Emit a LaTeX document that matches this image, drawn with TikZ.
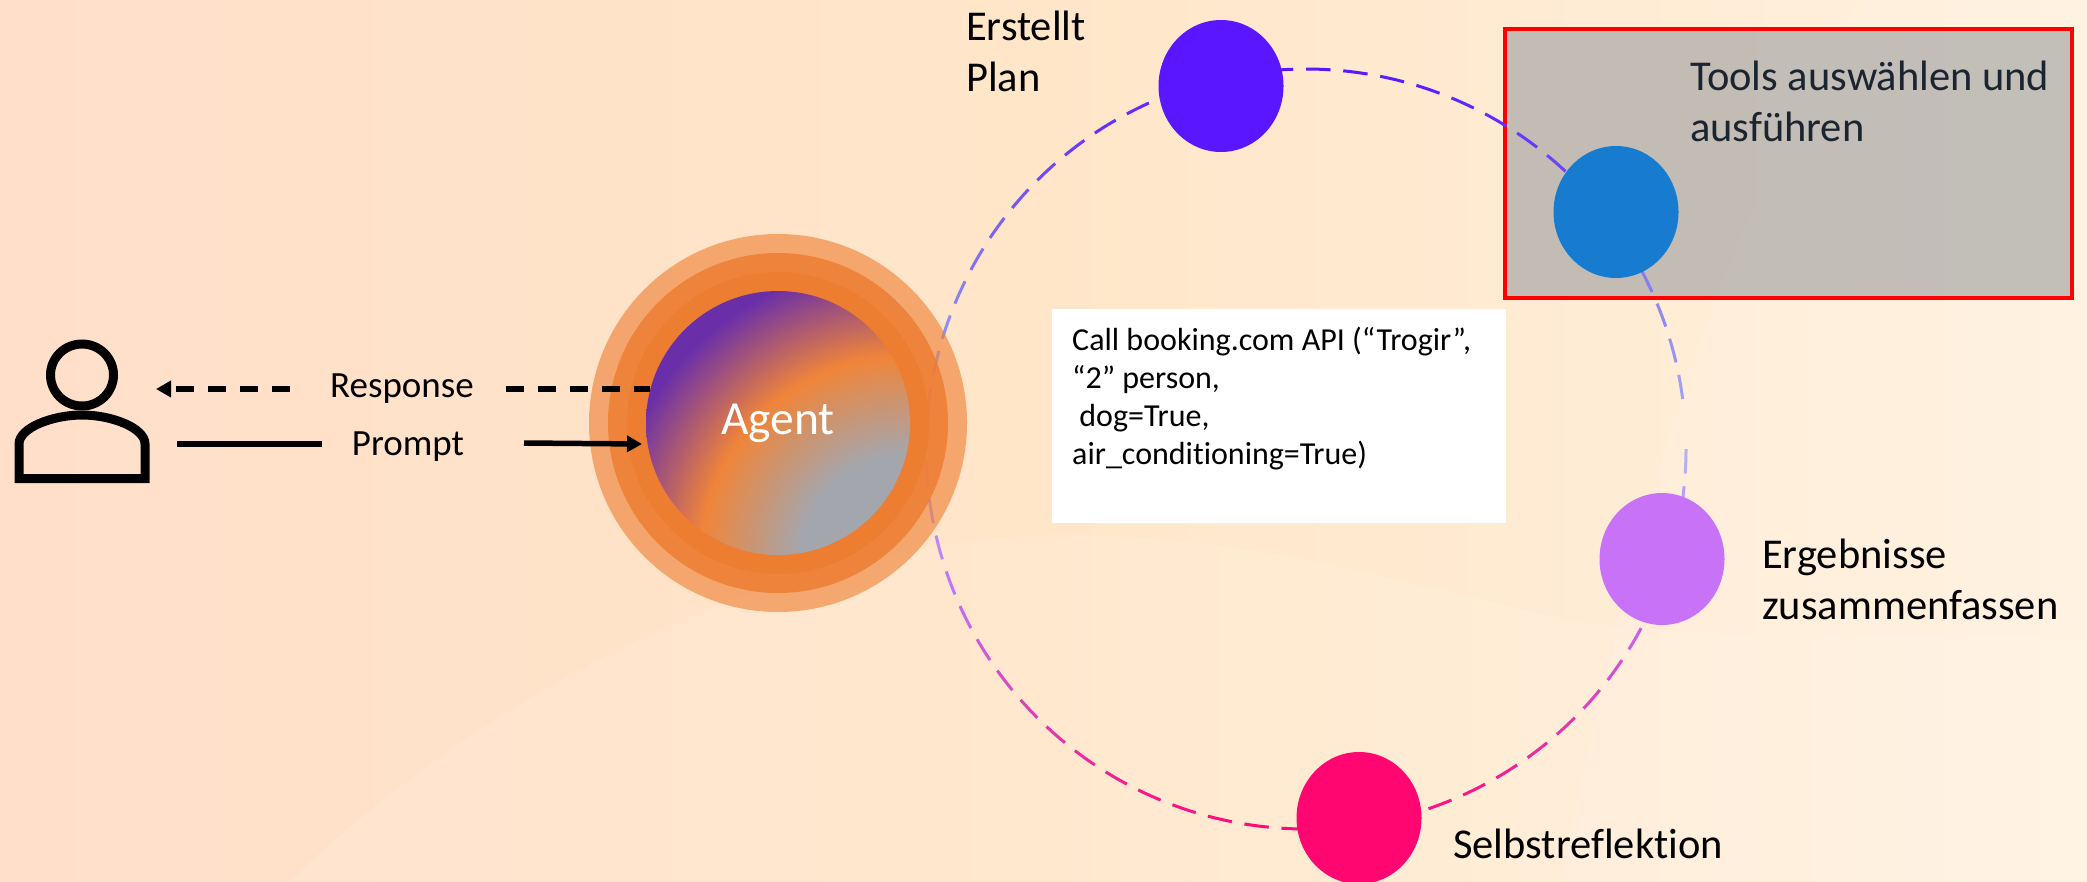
\documentclass[tikz,border=0pt]{standalone}
\usepackage{fontspec}
\setmainfont[Ligatures=NoCommon]{Carlito}
\usetikzlibrary{shapes.geometric,arrows.meta}
\definecolor{bgL}{HTML}{FFDFCA}
\definecolor{bgM}{HTML}{FFE6C9}
\definecolor{bgR}{HTML}{FFF1DE}
\definecolor{ringA}{HTML}{5A17FF}
\definecolor{ringB}{HTML}{8A85F0}
\definecolor{ringC}{HTML}{B4B4F4}
\definecolor{ringD}{HTML}{C070F5}
\definecolor{ringE}{HTML}{FF0A78}
\definecolor{orangeRing}{HTML}{ED7D31}
\definecolor{toolblue}{HTML}{177CD0}
\definecolor{sumlilac}{HTML}{C872F7}
\definecolor{reflpink}{HTML}{FF0671}
\definecolor{darktext}{HTML}{1B2430}
\pgfdeclareradialshading{agentrad}{\pgfpoint{0bp}{0bp}}{%
  rgb(0bp)=(0.643,0.651,0.682);
  rgb(7.95bp)=(0.643,0.651,0.682);
  rgb(15.5bp)=(0.94,0.52,0.225);
  rgb(22.7bp)=(0.415,0.185,0.66);
  rgb(50bp)=(0.415,0.185,0.66)}
\tikzset{
  stage/.style={ellipse,draw=none,inner sep=0pt,minimum width=125pt,minimum height=132pt},
  halo/.style={fill=orangeRing,opacity=#1},
  lbl/.style={inner sep=0pt,font=\fontsize{42.5}{51}\selectfont,align=left,text=black},
  flowlbl/.style={inner sep=0pt,font=\fontsize{37}{44}\selectfont,text=black},
  flow/.style={black,line width=5.5pt},
  dashflow/.style={flow,dash pattern=on 18pt off 14pt},
  tip/.style={-{Triangle[length=15pt,width=16pt]}},
}
\begin{document}
\begin{tikzpicture}[x=1pt,y=-1pt]
\useasboundingbox (0,0) rectangle (2087,881);
\begin{scope}
\clip (0,0) rectangle (2087,881);
% background
\fill[left color=bgL,right color=bgR,middle color=bgM] (0,0) rectangle (2087,881);
\fill[white,opacity=.10] (290,881) .. controls (500,680) and (800,530) .. (1080,535) .. controls (1300,540) and (1450,600) .. (1600,625)
  .. controls (1700,640) and (1800,630) .. (2087,640) -- (2087,881) -- cycle;
\fill[white,opacity=.10] (1560,881) .. controls (1620,600) and (1680,300) .. (1860,0) -- (2087,0) -- (2087,881) -- cycle;
% tools box
\node[draw=red,line width=3.5pt,fill=black!35,fill opacity=.68,draw opacity=1,minimum width=567pt,minimum height=269pt,inner sep=0pt] (toolsbox) at (1788.5,163.5) {};
% ring of dashes
\foreach \a in {0,5.625,...,354} {
  \pgfmathsetmacro\yy{449+380*sin(\a+1.8)}
  \pgfmathsetmacro\mixv{max(0,min(100,\yy<300?(\yy-69)/231*100:(\yy<450?(\yy-300)/150*100:(\yy<600?(\yy-450)/150*100:(\yy-600)/228*100))))}
  \pgfmathtruncatemacro\segv{\yy<300?1:(\yy<450?2:(\yy<600?3:4))}
  \ifcase\segv\relax\or
    \colorlet{dashc}{ringB!\mixv!ringA}\or
    \colorlet{dashc}{ringC!\mixv!ringB}\or
    \colorlet{dashc}{ringD!\mixv!ringC}\or
    \colorlet{dashc}{ringE!\mixv!ringD}\fi
  \draw[dashc,line width=3pt] (1306,449) ++(\a:380) arc[start angle=\a,delta angle=3.7,radius=380];
}
% agent rings
\fill[halo=.6] (778,423) circle[radius=189];
\fill[halo=.82] (778,423) circle[radius=170];
\fill[halo=.9] (778,423) circle[radius=151];
\node[circle,inner sep=0pt,minimum size=264pt,text=white,font=\fontsize{47.5}{50}\selectfont,
  path picture={\shade[shading=agentrad] ([shift={(127,137)}]path picture bounding box.center) circle[radius=330];}] (agent) at (778,423) {\raisebox{-4pt}{Agent}};
% stages
\node[stage,fill=ringA] (plan) at (1221,86) {};
\node[stage,fill=toolblue] (tools) at (1616,212) {};
\node[stage,fill=sumlilac] (summary) at (1662,559) {};
\node[stage,fill=reflpink] (reflect) at (1359,818) {};
% labels
\node[lbl,anchor=base west] (plantxt) at (966,91.5) {Erstellt\\Plan};
\node[lbl,anchor=base west,text=darktext] (toolstxt) at (1690,141) {Tools auswählen und\\ausführen};
\node[lbl,anchor=base west] (sumtxt) at (1762,619) {Ergebnisse\\zusammenfassen};
\node[lbl,anchor=base west] (refltxt) at (1453,858) {Selbstreflektion};
% call box
\node[fill=white,inner sep=0pt,minimum width=454pt,minimum height=214pt] (callbox) at (1279,416) {};
\node[inner sep=0pt,anchor=base west,align=left,font=\fontsize{32}{38}\selectfont] (calltxt) at (1072,464) {Call booking.com API (“Trogir”,\\“2” person,\\\ dog=True,\\air\_conditioning=True)};
% person
\node[ellipse,draw=black,line width=9pt,inner sep=0pt,minimum width=63pt,minimum height=62pt] (userhead) at (82,375) {};
\draw[black,line width=9pt,line join=miter] (19,478.5) -- (145,478.5) -- (145,444)
  .. controls (145,428) and (112,415) .. (82,415) .. controls (52,415) and (19,428) .. (19,444) -- cycle;
% flows
\node[flowlbl] (resplbl) at (402,389) {Response};
\node[flowlbl] (promptlbl) at (408,447) {Prompt};
\coordinate (respA) at (650,389);
\coordinate (respB) at (506,389);
\coordinate (respC) at (290,389);
\coordinate (respD) at (156,389);
\coordinate (promA) at (177,444);
\coordinate (promB) at (322,444);
\coordinate (promC) at (524,443);
\coordinate (promD) at (642,444);
\draw[dashflow] (respB) -- (respA);
\draw[dashflow,tip] (respC) -- (respD);
\draw[flow] (promA) -- (promB);
\draw[flow,tip] (promC) -- (promD);
\end{scope}
\end{tikzpicture}
\end{document}
